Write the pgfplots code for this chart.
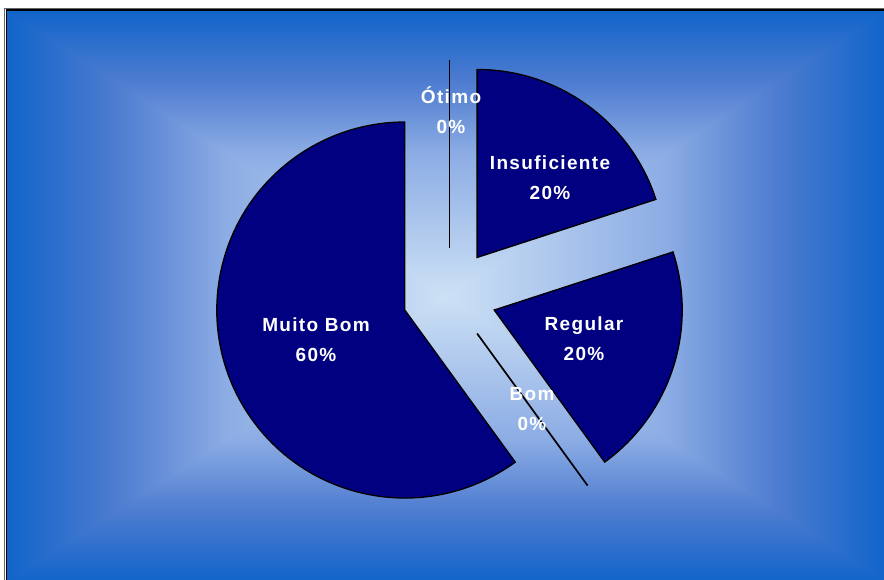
\documentclass[border=0pt]{standalone}
\usepackage{fontspec}
\setmainfont{Liberation Sans}
\newfontfamily\lblfont{Liberation Sans}[LetterSpace=7]
\usepackage{pgfplots}
\usepackage{pgfplotstable}
\pgfplotsset{compat=1.18}

\definecolor{pienavy}{RGB}{0,0,128}
\definecolor{cC}{RGB}{205,225,245}
\definecolor{cM}{RGB}{140,172,228}
\definecolor{cQ}{RGB}{78,124,208}
\definecolor{cE}{RGB}{16,100,202}

\pgfdeclareverticalshading{gradUp}{100bp}{color(0bp)=(cC); color(25bp)=(cC); color(50bp)=(cM); color(62.5bp)=(cQ); color(75bp)=(cE); color(100bp)=(cE)}
\pgfdeclareverticalshading{gradDown}{100bp}{color(0bp)=(cE); color(25bp)=(cE); color(37.5bp)=(cQ); color(50bp)=(cM); color(75bp)=(cC); color(100bp)=(cC)}
\pgfdeclarehorizontalshading{gradRight}{100bp}{color(0bp)=(cC); color(25bp)=(cC); color(50bp)=(cM); color(62.5bp)=(cQ); color(75bp)=(cE); color(100bp)=(cE)}
\pgfdeclarehorizontalshading{gradLeft}{100bp}{color(0bp)=(cE); color(25bp)=(cE); color(37.5bp)=(cQ); color(50bp)=(cM); color(75bp)=(cC); color(100bp)=(cC)}

% slices clockwise from 12 o'clock; lx, ly = label centre
\pgfplotstableread[col sep=comma]{
label,pct,lx,ly
Ótimo,0,451,469.5
Insuficiente,20,550,402.5
Regular,20,584,241
Bom,0,532,171
Muito Bom,60,316,240.5
}\pietable

\begin{document}
\begin{tikzpicture}
\useasboundingbox (0,0) rectangle (884pt,580pt);
\clip (0,0) rectangle (884pt,580pt);
\fill[white] (0,0) rectangle (884pt,580pt);
% background: rectangular gradient from centre
\shade[shading=gradLeft]  (6pt,-2pt) rectangle (446pt,570pt);
\shade[shading=gradRight] (446pt,-2pt) rectangle (886pt,570pt);
\begin{scope}
  \clip (446pt,284pt) -- (6pt,570pt) -- (886pt,570pt) -- cycle;
  \shade[shading=gradUp] (6pt,284pt) rectangle (886pt,570pt);
\end{scope}
\begin{scope}
  \clip (446pt,284pt) -- (6pt,-2pt) -- (886pt,-2pt) -- cycle;
  \shade[shading=gradDown] (6pt,-2pt) rectangle (886pt,284pt);
\end{scope}
\draw[black!60,line width=0.8pt] (4.5pt,-2pt) -- (4.5pt,571.8pt) -- (886pt,571.8pt);
\draw[black,line width=1.6pt] (6.5pt,-2pt) -- (6.5pt,570.2pt) -- (886pt,570.2pt);

\begin{axis}[x=1pt,y=1pt,xmin=0,xmax=884,ymin=0,ymax=580,
  hide axis,clip=false,anchor=south west,at={(0,0)}]
\pgfplotstablegetrowsof{\pietable}
\pgfmathtruncatemacro{\N}{\pgfplotsretval-1}
\xdef\cumang{90}
\foreach \i in {0,...,\N}{
  \pgfplotstablegetelem{\i}{pct}\of\pietable \let\pv\pgfplotsretval
  \pgfmathsetmacro\sa{\cumang}
  \pgfmathsetmacro\sb{\cumang-3.6*\pv}
  \pgfmathsetmacro\sm{(\sa+\sb)/2}
  \pgfmathsetmacro\apx{449.5+47*cos(\sm)}
  \pgfmathsetmacro\apy{284.5+47*sin(\sm)}
  \ifdim\pv pt>0pt
    \edef\temp{\noexpand\filldraw[fill=pienavy,draw=black,line width=1.3pt,line join=miter]
      (axis cs:\apx,\apy) -- ++(\sa:188pt) arc[start angle=\sa,end angle=\sb,radius=188pt] -- cycle;}
  \else
    \edef\temp{\noexpand\draw[black,line width=1.7pt]
      (axis cs:\apx,\apy) -- ++(\sa:188pt);}
  \fi
  \temp
  \xdef\cumang{\sb}
}
\foreach \i in {0,...,\N}{
  \pgfplotstablegetelem{\i}{pct}\of\pietable \let\pv\pgfplotsretval
  \pgfplotstablegetelem{\i}{lx}\of\pietable \let\lxv\pgfplotsretval
  \pgfplotstablegetelem{\i}{ly}\of\pietable \let\lyv\pgfplotsretval
  \pgfplotstablegetelem{\i}{label}\of\pietable \let\labv\pgfplotsretval
  \edef\temp{\noexpand\node[text=white,align=center,inner sep=0pt,
      font=\noexpand\fontsize{19}{30}\noexpand\selectfont\noexpand\lblfont\noexpand\bfseries]
      at (axis cs:\lxv,\lyv) {\labv\noexpand\\\pv\noexpand\%};}
  \temp
}
\end{axis}
\end{tikzpicture}
\end{document}
